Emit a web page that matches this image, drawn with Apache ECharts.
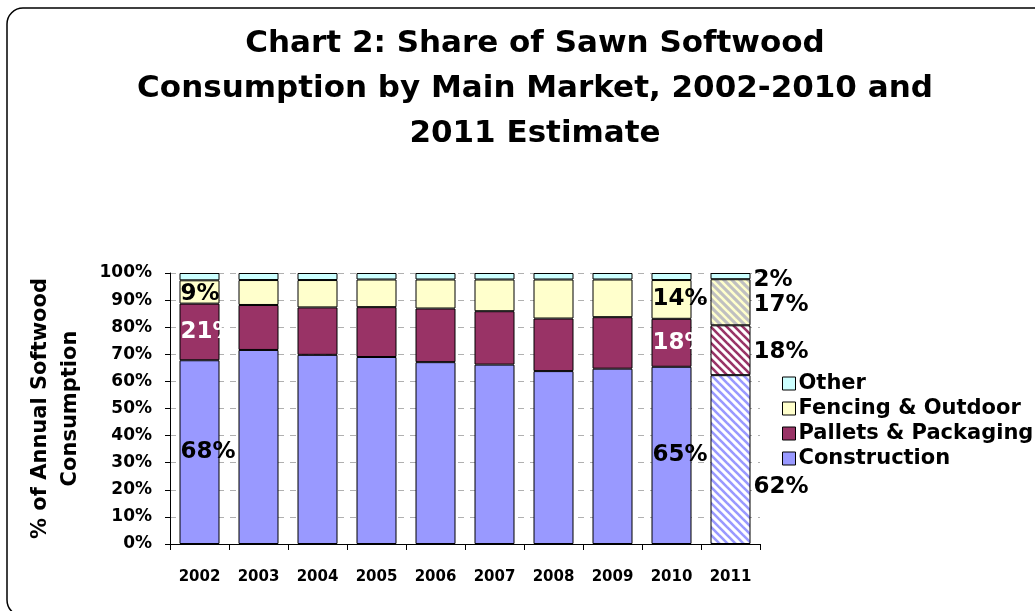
<!DOCTYPE html>
<html>
<head>
<meta charset="utf-8">
<script src="https://cdn.jsdelivr.net/npm/echarts@6/dist/echarts.min.js"></script>
<style>
  html, body { margin: 0; padding: 0; background: #fff; }
  #chart { width: 1035px; height: 611px; }
</style>
</head>
<body>
<div id="chart"></div>
<script>
// categories and shares (%)
const years = ['2002', '2003', '2004', '2005', '2006', '2007', '2008', '2009', '2010', '2011']
const construction = [67.8, 71.6, 69.8, 69.0, 67.1, 66.2, 63.8, 64.7, 65.4, 62.3]
const pallets = [20.9, 16.6, 17.5, 18.4, 19.8, 19.7, 19.4, 19.0, 17.7, 18.4]
const fencing = [8.6, 9.2, 10.1, 10.2, 10.7, 11.7, 14.4, 13.9, 14.3, 17.0]
const other = [2.7, 2.6, 2.6, 2.4, 2.4, 2.4, 2.4, 2.4, 2.6, 2.3]
const yTicks = [0, 10, 20, 30, 40, 50, 60, 70, 80, 90, 100]

const labelFont = 'DejaVu Sans, Verdana, sans-serif'

// striped fill used for the 2011 estimate bar
function stripes (bg, fg) {
    const c = document.createElement('canvas')
    c.width = 8
    c.height = 8
    const ctx = c.getContext('2d')
    ctx.fillStyle = bg
    ctx.fillRect(0, 0, 8, 8)
    ctx.strokeStyle = fg
    ctx.lineWidth = 2.6
    for (let o = -8; o <= 8; o += 8) {
        ctx.beginPath()
        ctx.moveTo(o - 1, -1)
        ctx.lineTo(o + 9, 9)
        ctx.stroke()
    }
    return { image: c, repeat: 'repeat' }
}

const seriesDefs = [
    { name: 'Construction', data: construction, color: '#9999FF', hatch: stripes('#ffffff', '#9999FF'), inColor: '#000', offset: [0, 27] },
    { name: 'Pallets & Packaging', data: pallets, color: '#993366', hatch: stripes('#ffffff', '#993366'), inColor: '#fff', offset: [0, 2] },
    { name: 'Fencing & Outdoor', data: fencing, color: '#FFFFCC', hatch: stripes('#C0C0C0', '#FFFFCC'), inColor: '#000', offset: [0, 3] },
    { name: 'Other', data: other, color: '#CCFFFF', hatch: '#CCFFFF', inColor: null, offset: [0, 4] }
]

const series = seriesDefs.map(s => ({
    name: s.name,
    type: 'bar',
    stack: 'total',
    barWidth: 40,
    itemStyle: { color: s.color, borderColor: '#000', borderWidth: 1 },
    label: {
        show: false,
        formatter: p => Math.round(p.value) + '%',
        fontFamily: labelFont,
        fontWeight: 'bold',
        fontSize: 23
    },
    data: s.data.map((v, i) => {
        const item = { value: v }
        if ((i === 0 || i === 8) && s.inColor) {
            item.label = { show: true, position: 'insideLeft', distance: 1, color: s.inColor, offset: i === 0 && s.name === 'Fencing & Outdoor' ? [0, 2] : [0, 0] }
        }
        if (i === 9) {
            item.itemStyle = { color: s.hatch }
            item.label = { show: true, position: 'right', distance: 3, color: '#000', offset: s.offset }
        }
        return item
    })
}))

const dom = echarts.init(document.getElementById('chart'))
dom.setOption({
    animation: false,
    backgroundColor: '#fff',
    textStyle: { fontFamily: labelFont },
    graphic: [{
        type: 'rect',
        shape: { x: 7, y: 8, width: 1045, height: 608, r: 16 },
        style: { fill: 'none', stroke: '#000', lineWidth: 1.5 },
        silent: true,
        z: -1
    }],
    title: {
        text: 'Chart 2: Share of Sawn Softwood\nConsumption by Main Market, 2002-2010 and\n2011 Estimate',
        left: 530,
        top: 16,
        textAlign: 'center',
        textStyle: {
            fontFamily: labelFont,
            fontWeight: 'bold',
            fontSize: 31,
            lineHeight: 45,
            color: '#000'
        }
    },
    legend: {
        orient: 'vertical',
        left: 777,
        top: 366,
        itemWidth: 13,
        itemHeight: 13,
        itemGap: 0,
        icon: 'rect',
        data: ['Other', 'Fencing & Outdoor', 'Pallets & Packaging', 'Construction'],
        itemStyle: { borderColor: '#000', borderWidth: 1 },
        textStyle: { fontFamily: labelFont, fontWeight: 'bold', fontSize: 21, lineHeight: 25, color: '#000', padding: [0, 0, 0, -2] }
    },
    grid: { left: 170, right: 275, top: 273, bottom: 67 },
    xAxis: {
        type: 'category',
        data: years,
        axisLine: { lineStyle: { color: '#000', width: 1 } },
        axisTick: { show: true, length: 6, lineStyle: { color: '#000' } },
        axisLabel: { margin: 26, fontFamily: labelFont, fontWeight: 'bold', fontSize: 15, color: '#000' }
    },
    yAxis: {
        type: 'value',
        min: yTicks[0],
        max: yTicks[yTicks.length - 1],
        interval: 10,
        name: '% of Annual Softwood\nConsumption',
        nameLocation: 'middle',
        nameRotate: 90,
        nameGap: 84,
        nameTextStyle: { fontFamily: labelFont, fontWeight: 'bold', fontSize: 21, lineHeight: 30, color: '#000' },
        axisLine: { show: true, lineStyle: { color: '#000', width: 1 } },
        axisTick: { show: true, length: 5, lineStyle: { color: '#000' } },
        axisLabel: { margin: 18, formatter: '{value}%', fontFamily: labelFont, fontWeight: 'bold', fontSize: 17, color: '#000' },
        splitLine: { show: true, lineStyle: { color: '#b0b0b0', type: [6, 6], width: 1 } }
    },
    series: series
})
window.addEventListener('resize', () => dom.resize(), false)
</script>
</body>
</html>
